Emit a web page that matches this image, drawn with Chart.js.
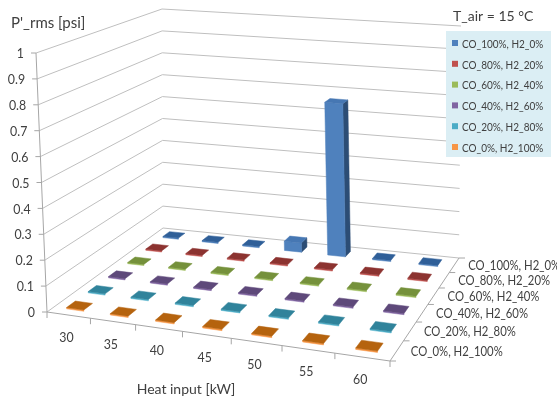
<!DOCTYPE html>
<html>
<head>
<meta charset="utf-8">
<script src="https://cdn.jsdelivr.net/npm/chart.js@4/dist/chart.umd.min.js"></script>
<style>
  html, body { margin: 0; padding: 0; background: #ffffff; }
  #wrap { width: 557px; height: 400px; }
</style>
</head>
<body>
<div id="wrap"><canvas id="c" width="557" height="400"></canvas></div>
<script>
// Heat input categories (kW) along the front axis
const heatInput = [30, 35, 40, 45, 50, 55, 60];
// Fuel mixtures, back row first
const mixtures = ['CO_100%, H2_0%', 'CO_80%, H2_20%', 'CO_60%, H2_40%',
                  'CO_40%, H2_60%', 'CO_20%, H2_80%', 'CO_0%, H2_100%'];
// P'_rms [psi] for each mixture at each heat input
const co100 = [0, 0, 0, 0.04, 0.66, 0, 0];
const co80  = [0, 0, 0, 0, 0, 0, 0];
const co60  = [0, 0, 0, 0, 0, 0, 0];
const co40  = [0, 0, 0, 0, 0, 0, 0];
const co20  = [0, 0, 0, 0, 0, 0, 0];
const co0   = [0, 0, 0, 0, 0, 0, 0];
const seriesValues = [co100, co80, co60, co40, co20, co0];
// Value axis ticks
const valueTicks = [0, 0.1, 0.2, 0.3, 0.4, 0.5, 0.6, 0.7, 0.8, 0.9, 1];

const baseColors = ['#4F81BD', '#C0504D', '#9BBB59', '#8064A2', '#4BACC6', '#F79646'];
const topShade   = ['#2F5F98', '#8C3330', '#75913B', '#5E497A', '#30839B', '#B5630E'];
const sideShade  = ['#2C4D75', '#7A2B29', '#5E7530', '#4B3A62', '#28697C', '#99520D'];

// Screen quads of the floor (value 0) and ceiling (value 1) of the plot box,
// ordered front-left, front-right, back-right, back-left.
const floorQuad = [[47, 312], [390, 361], [459, 258], [163, 228]];
const ceilQuad  = [[36, 53], [394, 87], [461, 26], [162, 9]];

function squareToQuad(q) {
  const [x0, y0] = q[0], [x1, y1] = q[1], [x2, y2] = q[2], [x3, y3] = q[3];
  const dx1 = x1 - x2, dx2 = x3 - x2, dx3 = x0 - x1 + x2 - x3;
  const dy1 = y1 - y2, dy2 = y3 - y2, dy3 = y0 - y1 + y2 - y3;
  const den = dx1 * dy2 - dx2 * dy1;
  const g = (dx3 * dy2 - dx2 * dy3) / den;
  const h = (dx1 * dy3 - dx3 * dy1) / den;
  const a = x1 - x0 + g * x1, b = x3 - x0 + h * x3, c = x0;
  const d = y1 - y0 + g * y1, e = y3 - y0 + h * y3, f = y0;
  return (u, w) => {
    const k = g * u + h * w + 1;
    return [(a * u + b * w + c) / k, (d * u + e * w + f) / k];
  };
}
const floorMap = squareToQuad(floorQuad);
const ceilMap = squareToQuad(ceilQuad);

const datasets = mixtures.map((name, k) => ({
  label: name,
  data: seriesValues[k].map((v, i) => ({ x: i + 0.5, y: v, depth: mixtures.length - k - 0.5 })),
  backgroundColor: baseColors[k],
  pointRadius: 0,
  pointHoverRadius: 0
}));

// text with an optional horizontal squeeze (narrow sans look)
function text(ctx, str, x, y, size, align, squeeze) {
  ctx.save();
  ctx.font = size + 'px Lato';
  ctx.textAlign = align;
  ctx.textBaseline = 'middle';
  ctx.fillStyle = '#404040';
  ctx.translate(x, y);
  ctx.scale(squeeze, 1);
  ctx.fillText(str, 0, 0);
  ctx.restore();
}

const box3d = {
  id: 'box3d',
  afterDatasetsDraw(chart) {
    const ctx = chart.ctx;
    const xs = chart.scales.x, ys = chart.scales.y, zs = chart.scales.depth;
    const nu = v => (xs.getPixelForValue(v) - xs.left) / xs.width;
    const nw = v => (zs.getPixelForValue(v) - zs.left) / zs.width;
    const nt = v => (ys.bottom - ys.getPixelForValue(v)) / ys.height;
    // category position, depth position, value -> screen
    const P = (cx, dz, val) => {
      const u = nu(cx), w = nw(dz), t = nt(val);
      const a = floorMap(u, w), b = ceilMap(u, w);
      return [a[0] + (b[0] - a[0]) * t, a[1] + (b[1] - a[1]) * t];
    };
    const nCat = heatInput.length, nSer = mixtures.length;
    const line = (p, q, color) => {
      ctx.beginPath();
      ctx.moveTo(p[0], p[1]); ctx.lineTo(q[0], q[1]);
      ctx.strokeStyle = color; ctx.lineWidth = 1; ctx.stroke();
    };
    const poly = (pts, fill) => {
      ctx.beginPath();
      ctx.moveTo(pts[0][0], pts[0][1]);
      for (let i = 1; i < pts.length; i++) ctx.lineTo(pts[i][0], pts[i][1]);
      ctx.closePath();
      ctx.fillStyle = fill; ctx.fill();
      ctx.strokeStyle = fill; ctx.lineWidth = 0.5; ctx.stroke();
    };

    ctx.save();
    // wall gridlines
    const grid = '#BFBFBF';
    valueTicks.forEach(v => {
      line(P(0, 0, v), P(0, nSer, v), grid);
      line(P(0, nSer, v), P(nCat, nSer, v), grid);
    });
    // value axis with ticks
    const axisCol = '#A6A6A6';
    line(P(0, 0, 0), P(0, 0, 1), axisCol);
    valueTicks.forEach(v => {
      const p = P(0, 0, v);
      line([p[0] - 5, p[1]], p, axisCol);
      text(ctx, String(v), p[0] - 12, p[1] + 1, 13, 'right', 0.95);
    });
    // category axis along the front edge
    line(P(0, 0, 0), P(nCat, 0, 0), axisCol);
    for (let i = 0; i <= nCat; i++) {
      const p = P(i, 0, 0);
      line(p, [p[0], p[1] + 6], axisCol);
    }
    heatInput.forEach((h, i) => {
      const p = P(i + 0.5, 0, 0);
      text(ctx, String(h), p[0] - 2, p[1] + 23, 13, 'center', 0.95);
    });
    // depth axis along the right floor edge
    line(P(nCat, 0, 0), P(nCat, nSer, 0), axisCol);
    for (let j = 0; j <= nSer; j++) {
      const p = P(nCat, j, 0);
      line(p, [p[0] + 6, p[1]], axisCol);
    }
    mixtures.forEach((m, k) => {
      const p = P(nCat, nSer - k - 0.5, 0);
      text(ctx, m, p[0] + 14, p[1] + 1, 13, 'left', 0.87);
    });

    // columns, drawn back to front
    const hw = 0.2, hd = 0.2, thin = 0.005;
    chart.data.datasets.forEach((ds, k) => {
      ds.data.forEach(pt => {
        const x0 = pt.x - hw, x1 = pt.x + hw, z0 = pt.depth - hd, z1 = pt.depth + hd;
        const top = Math.max(pt.y, thin);
        const front = [P(x0, z0, 0), P(x1, z0, 0), P(x1, z0, top), P(x0, z0, top)];
        const side = [P(x1, z0, 0), P(x1, z1, 0), P(x1, z1, top), P(x1, z0, top)];
        const lid = [P(x0, z0, top), P(x1, z0, top), P(x1, z1, top), P(x0, z1, top)];
        if (pt.y > thin) {
          poly(side, sideShade[k]);
          poly(front, baseColors[k]);
          poly(lid, '#4677B3');
        } else {
          poly(front, baseColors[k]);
          poly(lid, topShade[k]);
        }
      });
    });

    // axis titles
    text(ctx, "P'_rms [psi]", 11, 23, 15, 'left', 1);
    text(ctx, 'Heat input [kW]', 186, 389, 14, 'center', 1);

    // legend
    text(ctx, 'T_air = 15 °C', 453, 16, 14, 'left', 1);
    ctx.fillStyle = '#DBEEF4';
    ctx.fillRect(446, 31, 105, 126);
    chart.data.datasets.forEach((ds, k) => {
      const y = 43 + k * 20.8;
      ctx.fillStyle = ds.backgroundColor;
      ctx.fillRect(452, y - 3, 6, 6);
      text(ctx, ds.label, 462, y + 1, 11.5, 'left', 0.87);
    });
    ctx.restore();
  }
};

new Chart(document.getElementById('c'), {
  type: 'scatter',
  data: { datasets },
  options: {
    responsive: false,
    devicePixelRatio: 1,
    animation: false,
    layout: { padding: 0 },
    plugins: { legend: { display: false }, tooltip: { enabled: false } },
    scales: {
      x: { type: 'linear', min: 0, max: heatInput.length, display: false },
      depth: { type: 'linear', axis: 'x', min: 0, max: mixtures.length, display: false },
      y: { type: 'linear', min: 0, max: 1, display: false }
    }
  },
  plugins: [box3d]
});
</script>
</body>
</html>
